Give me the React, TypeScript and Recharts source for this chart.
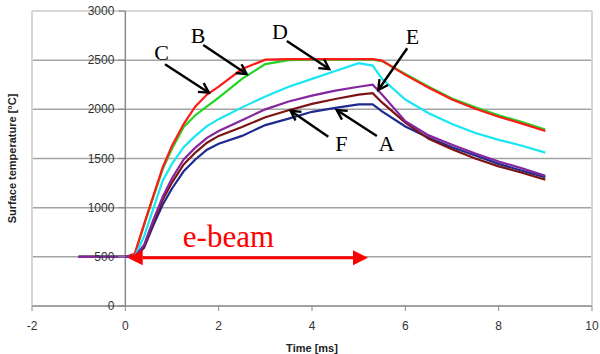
import React from 'react';
import {
  LineChart,
  Line,
  XAxis,
  YAxis,
  CartesianGrid,
  ReferenceLine,
  ReferenceDot,
} from 'recharts';

// time in ms, temperature in °C
const times = [-1, 0, 0.2, 0.4, 0.6, 0.8, 1, 1.25, 1.5, 1.75, 2, 2.5, 3, 3.5, 4, 4.5, 5, 5.3, 5.5, 6, 6.5, 7, 7.5, 8, 8.5, 9];
const curveA = [500, 500, 500, 590, 820, 1030, 1195, 1370, 1490, 1590, 1650, 1730, 1840, 1905, 1975, 2015, 2050, 2050, 1980, 1825, 1710, 1615, 1530, 1445, 1375, 1310];
const curveB = [500, 500, 520, 820, 1110, 1390, 1600, 1820, 1940, 2030, 2120, 2310, 2460, 2500, 2505, 2505, 2505, 2505, 2490, 2360, 2230, 2110, 2020, 1940, 1870, 1795];
const curveC = [500, 500, 530, 830, 1120, 1410, 1630, 1850, 2030, 2150, 2230, 2410, 2505, 2510, 2510, 2510, 2510, 2510, 2495, 2350, 2220, 2100, 2005, 1925, 1855, 1780];
const curveD = [500, 500, 500, 705, 990, 1275, 1445, 1615, 1730, 1830, 1900, 2020, 2130, 2230, 2310, 2390, 2470, 2445, 2310, 2100, 1960, 1850, 1760, 1690, 1630, 1560];
const curveE = [500, 500, 500, 620, 875, 1110, 1300, 1490, 1610, 1710, 1780, 1890, 2000, 2080, 2140, 2190, 2230, 2250, 2150, 1880, 1735, 1640, 1550, 1470, 1400, 1325];
const curveF = [500, 500, 500, 600, 850, 1080, 1255, 1440, 1560, 1660, 1730, 1820, 1920, 1990, 2055, 2105, 2150, 2165, 2070, 1865, 1700, 1595, 1500, 1420, 1355, 1285];

const xTicks = [-2, 0, 2, 4, 6, 8, 10];
const yTicks = [0, 500, 1000, 1500, 2000, 2500, 3000];

// annotation letters: [label, labelT, labelV, tailT, tailV, tipT, tipV]
const pointers: [string, number, number, number, number, number, number][] = [
  ['C', 0.775, 2578, 0.85, 2458, 1.79, 2169],
  ['B', 1.557, 2751, 1.67, 2654, 2.6, 2359],
  ['D', 3.314, 2787, 3.46, 2695, 4.37, 2410],
  ['E', 6.153, 2741, 6.04, 2621, 5.42, 2197],
  ['F', 4.632, 1648, 4.35, 1722, 3.54, 1986],
  ['A', 5.596, 1648, 5.39, 1729, 4.53, 1993],
];

const data = times.map((t, i) => ({
  t,
  A: curveA[i],
  B: curveB[i],
  C: curveC[i],
  D: curveD[i],
  E: curveE[i],
  F: curveF[i],
}));

const W = 600;
const H = 354;
const M = { top: 11, right: 8, left: 31, bottom: 0 };
const PLOT_LEFT = M.left + 1;
const X0 = PLOT_LEFT + (2 / 12) * (W - PLOT_LEFT - M.right); // pixel of t = 0

const sans = '"Liberation Sans", Arial, sans-serif';
const serif = '"Liberation Serif", "Times New Roman", serif';

const YTick = ({ y, payload }: any) => (
  <g>
    <line x1={X0 - 7} x2={X0} y1={y} y2={y} stroke="#8a8a8a" strokeWidth={1.2} />
    <text x={X0 - 11} y={y} textAnchor="end" dominantBaseline="central" fontSize={12} fontFamily={sans} fill="#333">
      {payload.value}
    </text>
  </g>
);

const PointerArrow = (p: any) => {
  const { x1, y1, x2, y2 } = p;
  const a = Math.atan2(y2 - y1, x2 - x1);
  const len = 11;
  const sp = 0.5;
  const h1 = [x2 - len * Math.cos(a - sp), y2 - len * Math.sin(a - sp)];
  const h2 = [x2 - len * Math.cos(a + sp), y2 - len * Math.sin(a + sp)];
  return (
    <g>
      <line x1={x1} y1={y1} x2={x2} y2={y2} stroke="#000" strokeWidth={2.4} />
      <polyline
        points={`${h1[0]},${h1[1]} ${x2},${y2} ${h2[0]},${h2[1]}`}
        fill="none"
        stroke="#000"
        strokeWidth={2.4}
      />
    </g>
  );
};

const BeamArrow = (p: any) => {
  const { x1, y1, x2, y2 } = p;
  const hl = 15;
  const hw = 7.5;
  return (
    <g>
      <line x1={x1 + hl} y1={y1} x2={x2 - hl} y2={y2} stroke="#ff0000" strokeWidth={3} />
      <polygon points={`${x1},${y1} ${x1 + hl},${y1 - hw} ${x1 + hl},${y1 + hw}`} fill="#ff0000" />
      <polygon points={`${x2},${y2} ${x2 - hl},${y2 - hw} ${x2 - hl},${y2 + hw}`} fill="#ff0000" />
    </g>
  );
};

const letter = (txt: string) => (p: any) => (
  <text x={p.cx} y={p.cy} textAnchor="middle" dominantBaseline="central" fontSize={22} fontFamily={serif} fill="#000">
    {txt}
  </text>
);

const beamText = (p: any) => (
  <text x={p.cx} y={p.cy} textAnchor="middle" fontSize={31} fontFamily={serif} fill="#ff0000">
    e-beam
  </text>
);

export default function App() {
  return (
    <div style={{ position: 'absolute', left: 0, top: 0, background: '#fff' }}>
      <LineChart width={W} height={H} data={data} margin={M}>
        <CartesianGrid vertical={false} stroke="#a3a3a3" strokeWidth={1.5} />
        <ReferenceLine y={3000} stroke="#d6d6d6" strokeWidth={2} />
        <ReferenceLine x={-2} stroke="#d6d6d6" strokeWidth={2} />
        <ReferenceLine x={10} stroke="#d6d6d6" strokeWidth={2} />
        <ReferenceLine x={0} stroke="#8a8a8a" strokeWidth={1.5} />
        <XAxis
          dataKey="t"
          type="number"
          domain={[-2, 10]}
          ticks={xTicks}
          interval={0}
          height={48}
          tickSize={5}
          tickMargin={10}
          stroke="#8a8a8a"
          tick={{ fill: '#333', fontSize: 12, fontFamily: sans }}
          label={{
            value: 'Time [ms]',
            position: 'insideBottom',
            offset: 2,
            fill: '#222',
            fontSize: 11,
            fontWeight: 'bold',
            fontFamily: sans,
          }}
        />
        <YAxis
          type="number"
          domain={[0, 3000]}
          ticks={yTicks}
          interval={0}
          width={1}
          axisLine={false}
          tickLine={false}
          tick={<YTick />}
          label={{
            value: 'Surface temperature [°C]',
            angle: -90,
            position: 'left',
            offset: 19,
            fill: '#222',
            fontSize: 11,
            fontWeight: 'bold',
            fontFamily: sans,
            style: { textAnchor: 'middle' },
          }}
        />
        <Line dataKey="B" stroke="#22d422" strokeWidth={2.2} dot={false} isAnimationActive={false} />
        <Line dataKey="C" stroke="#ff1a1a" strokeWidth={2.2} dot={false} isAnimationActive={false} />
        <Line dataKey="D" stroke="#19e6f2" strokeWidth={2.2} dot={false} isAnimationActive={false} />
        <Line dataKey="A" stroke="#1f2a8f" strokeWidth={2.2} dot={false} isAnimationActive={false} />
        <Line dataKey="F" stroke="#7d1414" strokeWidth={2.2} dot={false} isAnimationActive={false} />
        <Line dataKey="E" stroke="#8326a0" strokeWidth={2.2} dot={false} isAnimationActive={false} />
        <ReferenceLine
          segment={[
            { x: 0.05, y: 490 },
            { x: 5.2, y: 490 },
          ]}
          shape={BeamArrow}
        />
        <ReferenceDot x={2.21} y={600} r={0} shape={beamText} />
        {pointers.map(([name, lt, lv, tt, tv, pt, pv]) => (
          <ReferenceLine
            key={'arrow' + name}
            segment={[
              { x: tt, y: tv },
              { x: pt, y: pv },
            ]}
            shape={PointerArrow}
          />
        ))}
        {pointers.map(([name, lt, lv]) => (
          <ReferenceDot key={'label' + name} x={lt} y={lv} r={0} shape={letter(name)} />
        ))}
      </LineChart>
    </div>
  );
}
